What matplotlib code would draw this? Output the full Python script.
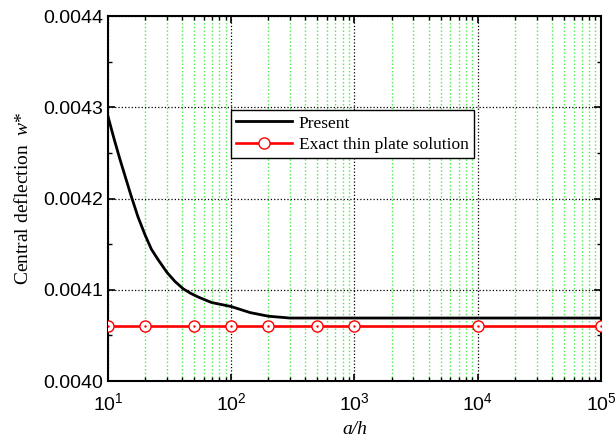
import matplotlib
matplotlib.use('Agg')
import matplotlib.pyplot as plt
from matplotlib.ticker import LogLocator, MultipleLocator, NullFormatter, FormatStrFormatter
import numpy as np

# Central deflection vs a/h
ah_present = [10, 11.2, 12.5, 15.4, 17.5, 20, 22.5, 25.5, 30.1, 35, 40.8, 47, 54, 69.3,
              100, 142, 200, 300, 1000, 10000, 100000]
w_present = [0.00429, 0.0042654, 0.004243, 0.004203, 0.00418, 0.00416, 0.0041444, 0.004133,
             0.004119, 0.004109, 0.004101, 0.004096, 0.004092, 0.004086, 0.0040816, 0.004075,
             0.004071, 0.004069, 0.004069, 0.004069, 0.004069]

ah_exact = [10, 20, 50, 100, 200, 500, 1000, 10000, 100000]
w_exact = [0.00406] * len(ah_exact)

plt.rcParams['font.family'] = ['Liberation Sans', 'DejaVu Sans']
plt.rcParams['mathtext.fontset'] = 'custom'
plt.rcParams['mathtext.rm'] = 'Liberation Sans'
plt.rcParams['mathtext.it'] = 'Liberation Serif:italic'

fig = plt.figure(figsize=(6.16, 4.42), dpi=100)
ax = fig.add_axes([0.1753, 0.138, 0.8003, 0.8258])

ax.plot(ah_present, w_present, '-', color='black', lw=2.0, label='Present', zorder=4,
        solid_joinstyle='round')
ax.plot(ah_exact, w_exact, '-', color='red', lw=1.9, marker='o', ms=8,
        mfc='white', mec='red', mew=1.0, label='Exact thin plate solution', zorder=4)
ax.plot(ah_exact, w_exact, '.', color='red', ms=1.5, zorder=5)

ax.set_xscale('log')
ax.set_xlim(10, 1e5)
ax.set_ylim(0.0040, 0.0044)
ax.xaxis.set_major_locator(LogLocator(base=10, numticks=10))
ax.xaxis.set_minor_locator(LogLocator(base=10, subs=np.arange(2, 10), numticks=20))
ax.xaxis.set_minor_formatter(NullFormatter())
ax.yaxis.set_major_locator(MultipleLocator(0.0001))
ax.yaxis.set_minor_locator(MultipleLocator(0.00005))
ax.yaxis.set_major_formatter(FormatStrFormatter('%.4f'))

# grid: black dotted majors, green dotted minor verticals
ax.grid(True, which='major', color='black', ls=':', lw=0.9)
ax.grid(True, which='minor', axis='x', color='#44ee44', ls=':', lw=1.0)
ax.set_axisbelow(True)

ax.tick_params(which='both', direction='in', top=True, right=True, labelsize=14)
ax.tick_params(which='major', length=5, width=1.2)
ax.tick_params(which='minor', length=3, width=1.0)
ax.tick_params(axis='x', pad=8)
for s in ax.spines.values():
    s.set_linewidth(1.5)

ax.set_xlabel('a/h', family='Liberation Serif', style='italic', fontsize=14, labelpad=5)
ax.set_ylabel('Central deflection  $w$*', family='Liberation Serif', fontsize=14, labelpad=8)

leg = ax.legend(loc='upper left', bbox_to_anchor=(0.2495, 0.742), prop={'family': 'Liberation Serif', 'size': 12.5},
                fancybox=False, framealpha=1, edgecolor='black', handlelength=3.2,
                borderpad=0.3, labelspacing=0.3, handletextpad=0.4, borderaxespad=0)
leg.get_frame().set_linewidth(1.0)

fig.savefig('out.png', dpi=100)
